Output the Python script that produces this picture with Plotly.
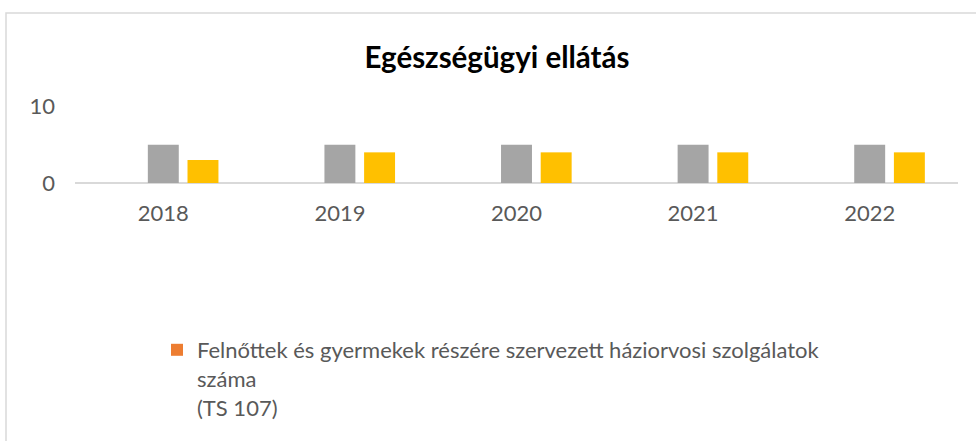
import plotly.graph_objects as go

years = ["2018", "2019", "2020", "2021", "2022"]
series_orange_name = "Felnőttek és gyermekek részére szervezett háziorvosi szolgálatok<br>száma<br>(TS 107)"
orange_vals = [0, 0, 0, 0, 0]
gray_vals = [5, 5, 5, 5, 5]
yellow_vals = [3, 4, 4, 4, 4]
title_text = "Egészségügyi ellátás"

FONT = "Lato"
TXT = "#595959"

W, H = 976, 441
L, R, T, B = 75, 18, 106, 258
PW = W - L - R
PH = H - T - B

def px_x(x):
    return (x - L) / PW

def px_y(y):
    return (H - B - y) / PH

fig = go.Figure()
fig.add_trace(go.Bar(x=years, y=orange_vals, name=series_orange_name,
                     marker=dict(color="#ED7D31", line=dict(width=0)), showlegend=True))
fig.add_trace(go.Bar(x=years, y=gray_vals, name="gray",
                     marker=dict(color="#A5A5A5", line=dict(width=0)), showlegend=False))
fig.add_trace(go.Bar(x=years, y=yellow_vals, name="yellow",
                     marker=dict(color="#FFC000", line=dict(width=0)), showlegend=False))

fig.update_layout(
    template="none",
    width=W, height=H, autosize=False,
    margin=dict(l=L, r=R, t=T, b=B, pad=0),
    paper_bgcolor="white", plot_bgcolor="white",
    barmode="group", bargap=0.326, bargroupgap=0.22,
    font=dict(family=FONT, color=TXT, size=22),
    title=dict(text="<b>" + title_text + "</b>", x=497 / W, xref="container", xanchor="center",
               y=1 - 58 / H, yref="container", yanchor="middle",
               font=dict(family=FONT, size=29.5, color="#000000")),
    showlegend=True,
    legend=dict(x=px_x(157), xanchor="left", y=px_y(329), yanchor="top", valign="top",
                font=dict(family=FONT, size=22, color=TXT), bgcolor="rgba(0,0,0,0)"),
    xaxis=dict(showgrid=False, showline=False, zeroline=False, ticks="", automargin=False,
               tickfont=dict(family=FONT, size=22, color=TXT), ticklabelstandoff=15),
    yaxis=dict(range=[0, 10.05], tickvals=[0, 10], showgrid=True, gridcolor="#D9D9D9", gridwidth=1.5,
               zeroline=True, zerolinecolor="#D9D9D9", zerolinewidth=1.5, showline=False, ticks="",
               automargin=False,
               tickfont=dict(family=FONT, size=22, color=TXT), ticklabelstandoff=19),
    shapes=[dict(type="rect", xref="paper", yref="paper",
                 x0=px_x(6), x1=px_x(990), y0=px_y(460), y1=px_y(13),
                 line=dict(color="#D9D9D9", width=1.5), fillcolor="rgba(0,0,0,0)", layer="below")],
)

fig.write_html("out.html", config={"displayModeBar": False},
               post_script="document.body.style.margin='0';")
